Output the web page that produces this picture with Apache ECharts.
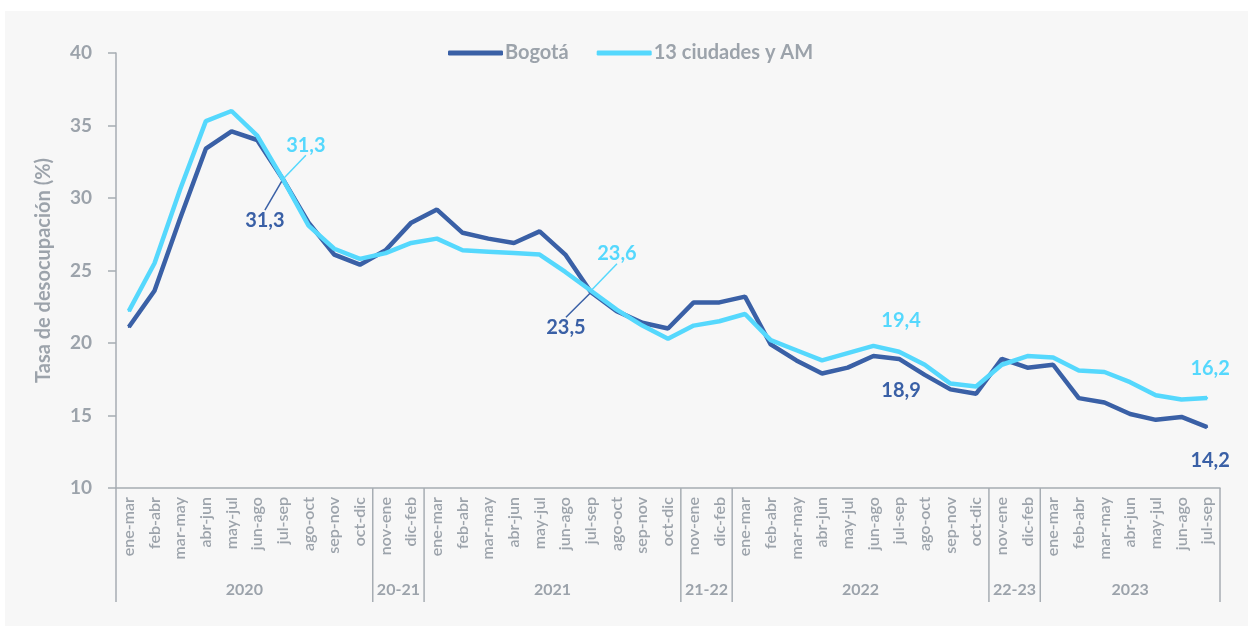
<!DOCTYPE html>
<html>
<head>
<meta charset="utf-8">
<script src="https://cdn.jsdelivr.net/npm/echarts@6/dist/echarts.min.js"></script>
<style>
  html, body { margin: 0; padding: 0; background: #ffffff; }
  #chart { position: absolute; left: 5px; top: 11px; width: 1243px; height: 615px; }
</style>
</head>
<body>
<div id="chart"></div>
<script>
// periodos (trimestres móviles)
const periodos = [
  'ene-mar', 'feb-abr', 'mar-may', 'abr-jun', 'may-jul', 'jun-ago', 'jul-sep', 'ago-oct', 'sep-nov', 'oct-dic',
  'nov-ene', 'dic-feb',
  'ene-mar', 'feb-abr', 'mar-may', 'abr-jun', 'may-jul', 'jun-ago', 'jul-sep', 'ago-oct', 'sep-nov', 'oct-dic',
  'nov-ene', 'dic-feb',
  'ene-mar', 'feb-abr', 'mar-may', 'abr-jun', 'may-jul', 'jun-ago', 'jul-sep', 'ago-oct', 'sep-nov', 'oct-dic',
  'nov-ene', 'dic-feb',
  'ene-mar', 'feb-abr', 'mar-may', 'abr-jun', 'may-jul', 'jun-ago', 'jul-sep'
];

// grupos de años bajo el eje
const grupos = ['2020', '20-21', '2021', '21-22', '2022', '22-23', '2023'];
const grupoTam = [10, 2, 10, 2, 10, 2, 7];

const bogota = [
  21.1, 23.6, 28.6, 33.4, 34.6, 34.0, 31.3, 28.3, 26.1, 25.4,
  26.4, 28.3,
  29.2, 27.6, 27.2, 26.9, 27.7, 26.1, 23.5, 22.2, 21.4, 21.0,
  22.8, 22.8,
  23.2, 19.9, 18.8, 17.9, 18.3, 19.1, 18.9, 17.8, 16.8, 16.5,
  18.9, 18.3,
  18.5, 16.2, 15.9, 15.1, 14.7, 14.9, 14.2
];

const ciudades = [
  22.2, 25.5, 30.6, 35.3, 36.0, 34.3, 31.3, 28.1, 26.5, 25.8,
  26.2, 26.9,
  27.2, 26.4, 26.3, 26.2, 26.1, 24.9, 23.6, 22.3, 21.2, 20.3,
  21.2, 21.5,
  22.0, 20.2, 19.5, 18.8, 19.3, 19.8, 19.4, 18.5, 17.2, 17.0,
  18.5, 19.1,
  19.0, 18.1, 18.0, 17.3, 16.4, 16.1, 16.2
];

const yTicks = [10, 15, 20, 25, 30, 35, 40];

// puntos con etiqueta: índice -> [dx, dy, con línea guía]
const etqBogota = { 6: [-18, 41, true], 18: [-25, 35, true], 30: [2, 32, false], 42: [3, 33, false] };
const etqCiudades = { 6: [23, -34, true], 18: [26, -37, true], 30: [2, -31, false], 42: [3, -30, false] };

const GRIS = '#9ca3ab';
const AZUL = '#3a60a6';
const CELESTE = '#55d8fd';
const FUENTE = 'Lato, "Noto Sans", sans-serif';

function serieData(vals, etq) {
  return vals.map((v, i) => {
    if (!etq[i]) return v;
    return { value: v, label: { show: true }, labelLine: { show: etq[i][2] } };
  });
}

// inicio de cada grupo
const gruposData = [];
let acc = 0;
grupoTam.forEach((n, k) => { gruposData.push([acc, n, k]); acc += n; });

const chart = echarts.init(document.getElementById('chart'));

const option = {
  backgroundColor: '#f7f7f7',
  animation: false,
  textStyle: { fontFamily: FUENTE },
  legend: {
    left: 438,
    top: 27,
    itemWidth: 55,
    itemHeight: 5,
    itemGap: 28,
    icon: 'roundRect',
    textStyle: { color: GRIS, fontSize: 20, fontWeight: 'bold', fontFamily: FUENTE, padding: [0, 0, 0, -3] },
    data: ['Bogotá', '13 ciudades y AM']
  },
  grid: { left: 111, right: 28, top: 42, bottom: 138 },
  xAxis: {
    type: 'category',
    data: periodos,
    boundaryGap: true,
    axisLine: { lineStyle: { color: '#a7adb3', width: 1.5 } },
    axisTick: { show: false },
    axisLabel: {
      rotate: 90,
      interval: 0,
      margin: 9,
      color: GRIS,
      fontSize: 16,
      fontWeight: 600,
      fontFamily: FUENTE
    }
  },
  yAxis: {
    type: 'value',
    min: yTicks[0],
    max: yTicks[yTicks.length - 1],
    interval: 5,
    name: 'Tasa de desocupación (%)',
    nameLocation: 'middle',
    nameGap: 62,
    nameTextStyle: { color: GRIS, fontSize: 20, fontWeight: 'bold', fontFamily: FUENTE },
    axisLine: { show: true, lineStyle: { color: '#a7adb3', width: 1.5 } },
    axisTick: { show: true, length: 8, lineStyle: { color: '#a7adb3', width: 1.5 } },
    splitLine: { show: false },
    axisLabel: { color: GRIS, fontSize: 19, fontWeight: 'bold', margin: 24, fontFamily: FUENTE }
  },
  series: [
    {
      name: 'Bogotá',
      type: 'line',
      data: serieData(bogota, etqBogota),
      symbol: 'circle',
      symbolSize: 2,
      showSymbol: true,
      itemStyle: { color: AZUL },
      lineStyle: { color: AZUL, width: 4.5 },
      z: 3,
      label: {
        show: false,
        position: 'inside',
        color: AZUL,
        fontSize: 20,
        fontWeight: 'bold',
        fontFamily: FUENTE,
        formatter: p => String(p.value).replace('.', ',')
      },
      labelLine: { show: false, lineStyle: { color: AZUL, width: 1.5 } },
      labelLayout: function (p) {
        const o = etqBogota[p.dataIndex];
        if (!o) return {};
        return { dx: o[0], dy: o[1] };
      }
    },
    {
      name: '13 ciudades y AM',
      type: 'line',
      data: serieData(ciudades, etqCiudades),
      symbol: 'circle',
      symbolSize: 2,
      showSymbol: true,
      itemStyle: { color: CELESTE },
      lineStyle: { color: CELESTE, width: 4.5 },
      z: 4,
      label: {
        show: false,
        position: 'inside',
        color: CELESTE,
        fontSize: 20,
        fontWeight: 'bold',
        fontFamily: FUENTE,
        formatter: p => String(p.value).replace('.', ',')
      },
      labelLine: { show: false, lineStyle: { color: CELESTE, width: 1.5 } },
      labelLayout: function (p) {
        const o = etqCiudades[p.dataIndex];
        if (!o) return {};
        return { dx: o[0], dy: o[1] };
      }
    },
    {
      // divisiones y nombres de los grupos de años
      type: 'custom',
      silent: true,
      clip: false,
      z: 1,
      encode: { x: 0, y: -1 },
      data: gruposData,
      renderItem: function (params, api) {
        const start = api.value(0);
        const n = api.value(1);
        const k = api.value(2);
        const p = api.coord([start, yTicks[0]]);
        const band = api.size([1, 0])[0];
        const x0 = p[0] - band / 2;
        const x1 = x0 + band * n;
        const y = p[1];
        const children = [
          { type: 'line', shape: { x1: x0, y1: y, x2: x0, y2: y + 114 }, style: { stroke: '#a7adb3', lineWidth: 1.5 } },
          {
            type: 'text',
            style: {
              text: grupos[k], x: (x0 + x1) / 2, y: y + 102,
              fill: GRIS, font: 'bold 16px ' + FUENTE, align: 'center', verticalAlign: 'middle'
            }
          }
        ];
        if (k === grupos.length - 1) {
          children.push({ type: 'line', shape: { x1: x1, y1: y, x2: x1, y2: y + 114 }, style: { stroke: '#a7adb3', lineWidth: 1.5 } });
        }
        return { type: 'group', children: children };
      }
    }
  ]
};

chart.setOption(option);
</script>
</body>
</html>
